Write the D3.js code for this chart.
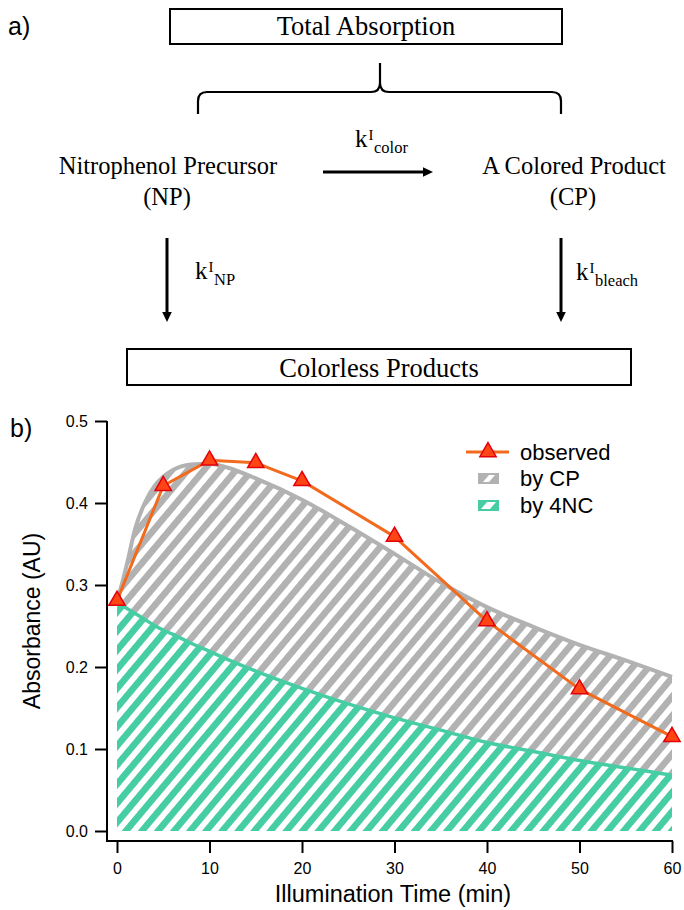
<!DOCTYPE html>
<html>
<head>
<meta charset="utf-8">
<script src="https://cdn.jsdelivr.net/npm/d3@7/dist/d3.min.js"></script>
<style>
  html, body { margin: 0; padding: 0; background: #fff; }
  svg { display: block; }
</style>
</head>
<body>
<svg id="fig" width="684" height="910"></svg>
<script>
// ---------------- data ----------------
const obsTime = [0, 5, 10, 15, 20, 30, 40, 50, 60];
const obsAbs  = [0.281, 0.421, 0.452, 0.449, 0.427, 0.359, 0.256, 0.173, 0.115];

const fitTime = [0, 1, 2, 3, 4, 5, 6, 8, 10, 12, 15, 20, 25, 30, 35, 40, 45, 50, 55, 60];
const nc4Abs  = [0.279, 0.272, 0.265, 0.258, 0.251, 0.245, 0.240, 0.229, 0.219, 0.209, 0.195, 0.174, 0.155, 0.138, 0.123, 0.108, 0.097, 0.086, 0.077, 0.068];
const cpAbs   = [0.000, 0.050, 0.105, 0.142, 0.169, 0.187, 0.200, 0.218, 0.229, 0.234, 0.235, 0.230, 0.217, 0.200, 0.180, 0.165, 0.152, 0.141, 0.131, 0.120];

const xTicks = [0, 10, 20, 30, 40, 50, 60];
const yTicks = [0.0, 0.1, 0.2, 0.3, 0.4, 0.5];
const legendLabels = ["observed", "by CP", "by 4NC"];

// ---------------- styles ----------------
const SANS = "'Liberation Sans', Arial, sans-serif";
const SERIF = "'Liberation Serif', 'Times New Roman', serif";
const GRAY = "#b2b2b2";
const GREEN = "#47cda4";
const ORANGE = "#f26a1e";
const TRI_FILL = "#ff4514";
const TRI_STROKE = "#e2000c";

const svg = d3.select("#fig");

// ---------------- panel a: scheme ----------------
const a = svg.append("g");
a.append("text").attr("x", 8).attr("y", 35).attr("font-family", SANS).attr("font-size", 25).text("a)");

function box(x, y, w, h, label, fs, cx, by) {
  a.append("rect").attr("x", x).attr("y", y).attr("width", w).attr("height", h)
    .attr("fill", "none").attr("stroke", "#000").attr("stroke-width", 2);
  a.append("text").attr("x", cx).attr("y", by).attr("text-anchor", "middle")
    .attr("font-family", SERIF).attr("font-size", fs).text(label);
}
box(170, 9, 392, 35, "Total Absorption", 26.5, 366, 35);
box(127, 349, 504, 36, "Colorless Products", 26.5, 379, 377);

// brace
a.append("path")
  .attr("d", "M198,114 V101 Q198,92 207,92 H371 Q380,92 380,83 V63 M380,83 Q380,92 389,92 H552 Q561,92 561,101 V114")
  .attr("fill", "none").attr("stroke", "#000").attr("stroke-width", 2.2);

function ctext(x, y, s, fs) {
  a.append("text").attr("x", x).attr("y", y).attr("text-anchor", "middle")
    .attr("font-family", SERIF).attr("font-size", fs).text(s);
}
ctext(168, 174, "Nitrophenol Precursor", 24.5);
ctext(167, 205, "(NP)", 24.5);
ctext(574, 174, "A Colored Product", 24.5);
ctext(573, 205, "(CP)", 24.5);

// arrows
function arrow(x1, y1, x2, y2) {
  const ang = Math.atan2(y2 - y1, x2 - x1);
  const L = 10, W = 4.8;
  const bx = x2 - L * Math.cos(ang), by = y2 - L * Math.sin(ang);
  a.append("line").attr("x1", x1).attr("y1", y1).attr("x2", bx + 1 * Math.cos(ang)).attr("y2", by + 1 * Math.sin(ang))
    .attr("stroke", "#000").attr("stroke-width", 3);
  a.append("polygon").attr("points", [
    [x2, y2],
    [bx - W * Math.sin(ang), by + W * Math.cos(ang)],
    [bx + W * Math.sin(ang), by - W * Math.cos(ang)]
  ].map(p => p.join(",")).join(" ")).attr("fill", "#000");
}
arrow(323, 172, 433, 172);
arrow(167, 238, 167, 322);
arrow(561, 238, 561, 322);

// rate constants
function rate(x, y, sub) {
  a.append("text").attr("x", x).attr("y", y).attr("font-family", SERIF).attr("font-size", 25).text("k");
  a.append("text").attr("x", x + 13.5).attr("y", y - 7).attr("font-family", SERIF).attr("font-size", 15).text("I");
  a.append("text").attr("x", x + 19).attr("y", y + 6).attr("font-family", SERIF).attr("font-size", 16.5).text(sub);
}
rate(355, 147, "color");
rate(195, 279, "NP");
rate(576, 280, "bleach");

// ---------------- panel b: chart ----------------
svg.append("text").attr("x", 10).attr("y", 437).attr("font-family", SANS).attr("font-size", 25).text("b)");

const x = d3.scaleLinear().domain([0, 60]).range([117, 672]);
const y = d3.scaleLinear().domain([0, 0.5]).range([831, 421]);

const defs = svg.append("defs");
function stripes(id, color) {
  const p = defs.append("pattern").attr("id", id).attr("patternUnits", "userSpaceOnUse")
    .attr("width", 12.3).attr("height", 12.3).attr("patternTransform", "rotate(40)");
  p.append("rect").attr("x", 0).attr("y", 0).attr("width", 6.6).attr("height", 12.3).attr("fill", color);
}
stripes("hatchGray", GRAY);
stripes("hatchGreen", GREEN);

const rows = fitTime.map((t, i) => ({ t, nc4: nc4Abs[i], cp: cpAbs[i] }));
const stacked = d3.stack().keys(["nc4", "cp"])(rows);

const area = d3.area().x(d => x(d.data.t)).y0(d => y(d[0])).y1(d => y(d[1])).curve(d3.curveMonotoneX);
const topLine = d3.line().x(d => x(d.data.t)).y(d => y(d[1])).curve(d3.curveMonotoneX);

const plot = svg.append("g");
plot.append("path").datum(stacked[1]).attr("d", area).attr("fill", "url(#hatchGray)");
plot.append("path").datum(stacked[0]).attr("d", area).attr("fill", "url(#hatchGreen)");
plot.append("path").datum(stacked[1]).attr("d", topLine).attr("fill", "none").attr("stroke", GRAY).attr("stroke-width", 4);
plot.append("path").datum(stacked[0]).attr("d", topLine).attr("fill", "none").attr("stroke", GREEN).attr("stroke-width", 3.5);

// observed
const obs = obsTime.map((t, i) => ({ t, v: obsAbs[i] }));
plot.append("path").datum(obs)
  .attr("d", d3.line().x(d => x(d.t)).y(d => y(d.v)))
  .attr("fill", "none").attr("stroke", ORANGE).attr("stroke-width", 3).attr("stroke-linejoin", "round");
const tri = d3.symbol().type(d3.symbolTriangle).size(115);
plot.selectAll(".tri").data(obs).join("path")
  .attr("transform", d => `translate(${x(d.t)},${y(d.v)})`)
  .attr("d", tri).attr("fill", TRI_FILL).attr("stroke", TRI_STROKE).attr("stroke-width", 1.5);

// axes
const axX = svg.append("g").attr("transform", "translate(0,841)")
  .call(d3.axisBottom(x).tickValues(xTicks).tickSize(12).tickPadding(10).tickSizeOuter(0));
const axY = svg.append("g").attr("transform", "translate(107,0)")
  .call(d3.axisLeft(y).tickValues(yTicks).tickFormat(d3.format(".1f")).tickSize(12).tickPadding(7).tickSizeOuter(0));
[axX, axY].forEach(g => {
  g.select(".domain").remove();
  g.selectAll("line").attr("stroke", "#000").attr("stroke-width", 2);
  g.selectAll("text").attr("font-family", SANS).attr("font-size", 16).attr("fill", "#000");
});
svg.append("path").attr("d", "M107,421 V841 H673").attr("fill", "none").attr("stroke", "#000").attr("stroke-width", 2);

svg.append("text").attr("x", 393).attr("y", 902).attr("text-anchor", "middle")
  .attr("font-family", SANS).attr("font-size", 23.5).text("Illumination Time (min)");
svg.append("text").attr("transform", "translate(40,621) rotate(-90)").attr("text-anchor", "middle")
  .attr("font-family", SANS).attr("font-size", 23).text("Absorbance (AU)");

// legend
const lg = svg.append("g");
lg.append("line").attr("x1", 466).attr("x2", 509).attr("y1", 452).attr("y2", 452)
  .attr("stroke", ORANGE).attr("stroke-width", 3);
lg.append("path").attr("transform", "translate(488,452)").attr("d", tri)
  .attr("fill", TRI_FILL).attr("stroke", TRI_STROKE).attr("stroke-width", 1.5);
function swatch(x0, y0, color, white) {
  lg.append("rect").attr("x", x0).attr("y", y0).attr("width", 21).attr("height", 11).attr("fill", color);
  lg.append("polygon").attr("points", white.map(p => [x0 + p[0], y0 + p[1]].join(",")).join(" ")).attr("fill", "#fff");
}
swatch(478, 473, GRAY, [[5, 9], [11, 9], [17, 2], [11, 2]]);
swatch(478, 500, GREEN, [[3, 9], [12, 9], [18, 2], [9, 2]]);
const legY = [452, 478, 505];
legendLabels.forEach((s, i) => {
  lg.append("text").attr("x", 520).attr("y", legY[i]).attr("dy", "0.35em")
    .attr("font-family", SANS).attr("font-size", 22).text(s);
});
</script>
</body>
</html>
